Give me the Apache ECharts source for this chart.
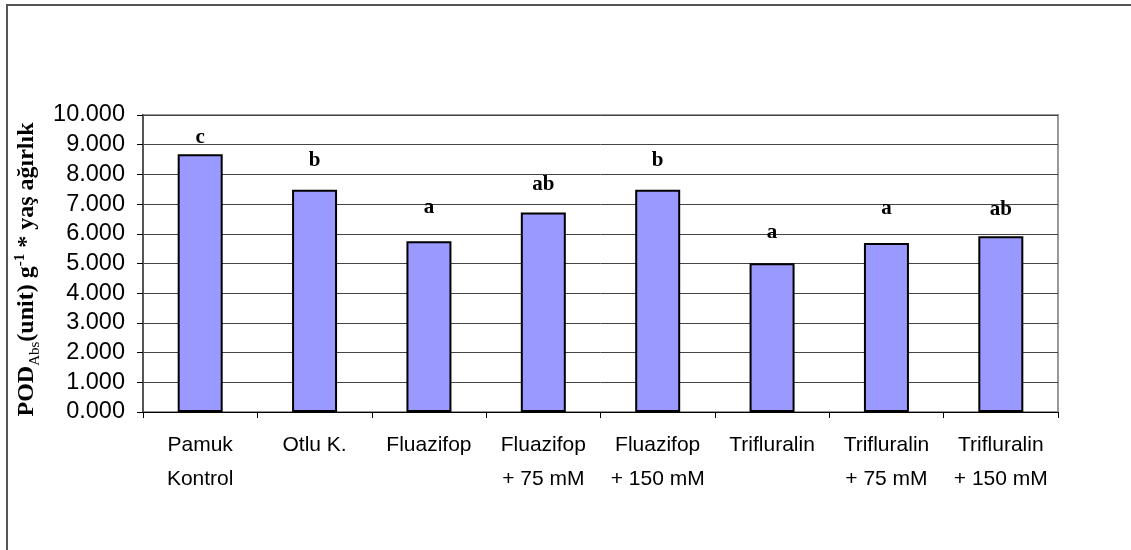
<!DOCTYPE html>
<html>
<head>
<meta charset="utf-8">
<script src="https://cdn.jsdelivr.net/npm/echarts@6/dist/echarts.min.js"></script>
<style>html,body{margin:0;padding:0;background:#fff;}#c{width:1131px;height:550px;}</style>
</head>
<body>
<div id="c"></div>
<script>
var categories = ['Pamuk\nKontrol', 'Otlu K.', 'Fluazifop', 'Fluazifop\n+ 75 mM', 'Fluazifop\n+ 150 mM', 'Trifluralin', 'Trifluralin\n+ 75 mM', 'Trifluralin\n+ 150 mM'];
var values = [8.68, 7.48, 5.75, 6.72, 7.48, 5.01, 5.69, 5.92];
var letters = ['c', 'b', 'a', 'ab', 'b', 'a', 'a', 'ab'];
var letterPos = [9.24, 8.45, 6.87, 7.65, 8.45, 6.04, 6.84, 6.80];
var yMin = 0, yMax = 10, yStep = 1;

var chart = echarts.init(document.getElementById('c'), null, {renderer: 'canvas'});
chart.setOption({
  animation: false,
  backgroundColor: '#fff',
  graphic: [{
    type: 'rect', silent: true,
    shape: {x: 7, y: 5, width: 1300, height: 700},
    style: {fill: 'none', stroke: '#555', lineWidth: 2}
  }],
  grid: {left: 143, top: 115, right: 73, bottom: 138, show: true, borderColor: '#999', borderWidth: 2, backgroundColor: 'transparent'},
  xAxis: {
    type: 'category',
    data: categories,
    boundaryGap: true,
    axisLine: {show: true, lineStyle: {color: '#000', width: 1}},
    axisTick: {show: true, length: 6, alignWithLabel: false, lineStyle: {color: '#000'}},
    axisLabel: {interval: 0, margin: 16, color: '#000', fontFamily: 'Liberation Sans, Arial, sans-serif', fontSize: 21, lineHeight: 34},
    splitLine: {show: false}
  },
  yAxis: {
    type: 'value',
    min: yMin, max: yMax, interval: yStep,
    name: '{n|POD}{sub|Abs}{n|(unit) g}{sup|-1}{n| * yaş ağırlık}',
    nameLocation: 'middle',
    nameRotate: 90,
    nameGap: 100,
    nameTextStyle: {
      padding: [0, 12, 0, 0],
      rich: {
        n: {fontFamily: 'Liberation Serif, Times New Roman, serif', fontWeight: 'bold', fontSize: 24, lineHeight: 30, color: '#000'},
        sub: {fontFamily: 'Liberation Serif, Times New Roman, serif', fontWeight: 'normal', fontSize: 15, verticalAlign: 'bottom', color: '#000'},
        sup: {fontFamily: 'Liberation Serif, Times New Roman, serif', fontWeight: 'bold', fontSize: 15, verticalAlign: 'top', color: '#000'}
      }
    },
    axisLine: {show: true, lineStyle: {color: '#555', width: 2}},
    axisTick: {show: true, length: 6, lineStyle: {color: '#000'}},
    axisLabel: {
      margin: 18, color: '#000', fontFamily: 'Liberation Sans, Arial, sans-serif', fontSize: 23.5,
      formatter: function (v) { return v.toFixed(3); }
    },
    splitLine: {show: true, lineStyle: {color: '#444', width: 1}}
  },
  series: [{
    type: 'bar',
    data: values,
    barWidth: 45,
    itemStyle: {color: '#9999FF', borderColor: '#000', borderWidth: 2},
    z: 2
  }, {
    type: 'scatter',
    data: letterPos,
    symbolSize: 2,
    itemStyle: {color: 'rgba(0,0,0,0)'},
    label: {
      show: true, position: 'inside', color: '#000', opacity: 1, textBorderWidth: 0,
      fontFamily: 'Liberation Serif, Times New Roman, serif', fontWeight: 'bold', fontSize: 21,
      formatter: function (p) { return letters[p.dataIndex]; }
    },
    z: 3
  }]
});
</script>
</body>
</html>
